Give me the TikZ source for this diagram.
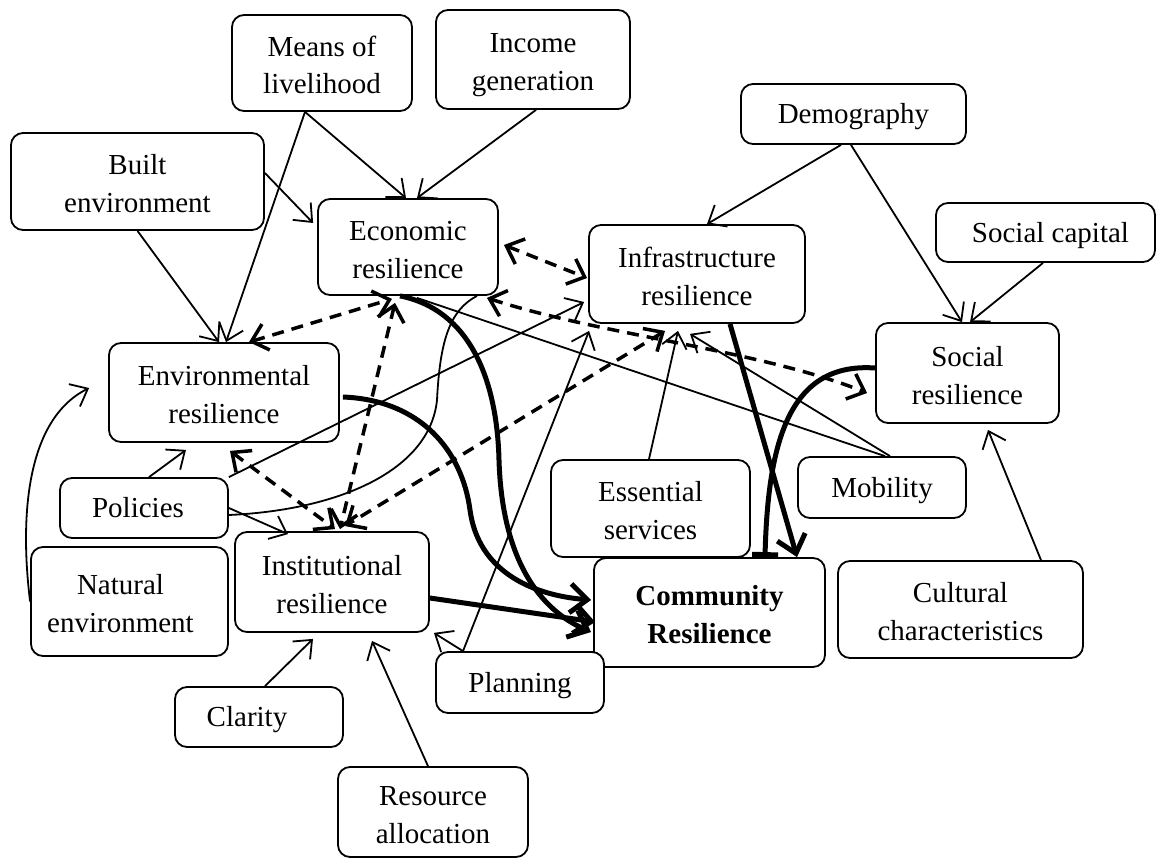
\documentclass[tikz,border=0pt]{standalone}
\usepackage{fontspec}
\setmainfont{Liberation Serif}
\usetikzlibrary{arrows.meta}
\newcommand{\oneln}[1]{\rule[-8pt]{0pt}{35pt}#1}
\newcommand{\twoln}[2]{\rule{0pt}{30pt}#1\\#2\rule[-6pt]{0pt}{6pt}}
\begin{document}
\begin{tikzpicture}[x=1pt,y=-1pt,
  box/.style={draw, line width=1.8pt, rounded corners=12pt, fill=white, align=center, inner sep=0pt, font=\fontsize{29}{38}\selectfont},
  thinarr/.style={line width=1.8pt, -{Straight Barb[length=15pt,width=25pt]}},
  plainln/.style={line width=1.8pt},
  dasharr/.style={line width=3.5pt, dash pattern=on 12pt off 8pt, {Straight Barb[length=15pt,width=27pt]}-{Straight Barb[length=15pt,width=27pt]}},
  thickarr/.style={line width=5pt, -{Straight Barb[length=17pt,width=29pt]}},
  thickbar/.style={line width=5pt, -{Bar[width=26pt]}}
]
\useasboundingbox (0,0) rectangle (1160,859);
% nodes
\node[box, minimum width=180pt, minimum height=96pt] (means) at (322,63) {\twoln{Means of}{livelihood}};
\node[box, minimum width=194pt, minimum height=99pt] (income) at (533,59.5) {\twoln{Income}{generation}};
\node[box, minimum width=253pt, minimum height=97pt] (built) at (137.5,181.5) {\twoln{Built}{environment}};
\node[box, minimum width=180pt, minimum height=96pt] (econ) at (408,247) {\twoln{Economic}{resilience}};
\node[box, minimum width=216pt, minimum height=98pt] (infra) at (697,274) {\twoln{Infrastructure}{resilience}};
\node[box, minimum width=225pt, minimum height=60pt] (demo) at (853.5,114) {\oneln{Demography}};
\node[box, minimum width=219pt, minimum height=59pt] (socap) at (1045.5,232.5) {\oneln{\hspace*{10pt}Social capital}};
\node[box, minimum width=183pt, minimum height=100pt] (social) at (967.5,373) {\twoln{Social}{resilience}};
\node[box, minimum width=230pt, minimum height=99pt] (env) at (224,392.5) {\twoln{Environmental}{resilience}};
\node[box, minimum width=168pt, minimum height=60pt] (pol) at (144,508) {\oneln{Policies\hspace*{12pt}}};
\node[box, minimum width=197pt, minimum height=109pt] (nat) at (129.5,601.5) {\twoln{Natural\hspace*{18pt}}{environment\hspace*{18pt}}};
\node[box, minimum width=194pt, minimum height=100pt] (inst) at (332,582) {\twoln{Institutional}{resilience}};
\node[box, minimum width=231pt, minimum height=109pt] (comm) at (709.5,612.5) {\twoln{\textbf{Community}}{\textbf{Resilience}}};
\node[box, minimum width=199pt, minimum height=97pt] (ess) at (650.5,508.5) {\twoln{Essential}{services}};
\node[box, minimum width=168pt, minimum height=61pt] (plan) at (520,682.5) {\oneln{Planning}};
\node[box, minimum width=168pt, minimum height=61pt] (mob) at (882,487.5) {\oneln{Mobility}};
\node[box, minimum width=245pt, minimum height=97pt] (cult) at (960.5,609.5) {\twoln{Cultural}{characteristics}};
\node[box, minimum width=168pt, minimum height=60pt] (clar) at (259,717) {\oneln{Clarity\hspace*{24pt}}};
\node[box, minimum width=190pt, minimum height=90pt] (res) at (433,812) {\twoln{Resource}{allocation}};

% thin arrows
\draw[thinarr] ([xshift=-17pt]means.south) -- ([xshift=2pt]env.north);
\draw[thinarr] ([xshift=-17pt]means.south) -- ([xshift=-2pt]econ.north);
\draw[thinarr] ([xshift=3pt]income.south) -- ([xshift=9pt]econ.north);
\draw[thinarr] ([yshift=8.5pt]built.east) -- ([xshift=-4pt,yshift=24pt]econ.west);
\draw[thinarr] (built.south) -- ([xshift=-5pt]env.north);
\draw[thinarr] ([xshift=-12.5pt]demo.south) -- ([xshift=10pt]infra.north);
\draw[thinarr] ([xshift=-2.5pt]demo.south) -- ([xshift=-5.5pt]social.north);
\draw[thinarr] ([xshift=-2.5pt]socap.south) -- ([xshift=2.5pt]social.north);
\draw[thinarr] ([xshift=80.5pt]cult.north) -- ([xshift=20.5pt,yshift=-6pt]social.south);
\draw[thinarr] ([xshift=8pt]mob.north) -- ([xshift=-7pt,yshift=-10pt]infra.south);
\draw[plainln] ([xshift=3pt]mob.north) -- ([xshift=9pt,yshift=-2pt]econ.south);
\draw[thinarr] ([xshift=-1.5pt]ess.north) -- ([xshift=-19pt,yshift=-7pt]infra.south);
\draw[thinarr] ([xshift=-57pt]plan.north) -- ([xshift=1pt,yshift=-7pt]infra.south west);
\draw[thinarr] ([xshift=-57pt]plan.north) -- ([xshift=4pt]inst.south east);
\draw[thinarr] ([xshift=5pt]pol.north) -- ([xshift=-38pt,yshift=-7pt]env.south);
\draw[thinarr] (pol.north east) -- ([xshift=-4pt,yshift=-28pt]infra.west);
\draw[thinarr] (pol.east) -- ([xshift=-44pt,yshift=-3pt]inst.north);
\draw[plainln] ([yshift=-7pt]pol.east) .. controls (340,510) and (430,470) .. (437,400)
   .. controls (440,340) and (450,310) .. ([xshift=69pt]econ.south);
\draw[thinarr] (nat.west) .. controls (20,520) and (25,420) .. ([xshift=-19pt,yshift=4.5pt]env.west);
\draw[thinarr] ([xshift=6pt]clar.north) -- ([xshift=-19pt,yshift=-6pt]inst.south);
\draw[thinarr] ([xshift=-5pt]res.north) -- ([xshift=40pt,yshift=-8pt]inst.south);

% dashed two-way arrows
\draw[dasharr] ([xshift=25pt]env.north) -- ([xshift=-16pt,yshift=-3pt]econ.south);
\draw[dasharr] ([xshift=-13pt,yshift=-7pt]econ.south) -- ([xshift=8pt,yshift=2pt]inst.north);
\draw[dasharr] ([xshift=6pt,yshift=-8pt]env.south) -- ([xshift=3pt,yshift=2pt]inst.north);
\draw[dasharr] ([xshift=5pt,yshift=2pt]econ.east) -- ([xshift=-1pt,yshift=-4pt]infra.west);
\draw[dasharr] ([xshift=79pt,yshift=-2pt]econ.south) .. controls (600,335) and (760,350) .. ([xshift=-8pt,yshift=-20pt]social.west);
\draw[dasharr] ([xshift=-32pt,yshift=-7pt]infra.south) -- ([xshift=13pt,yshift=5pt]inst.north);

% thick arrows
\draw[thickarr] ([xshift=3pt,yshift=-4.5pt]env.east) .. controls (420,400) and (462,450) .. (470,510)
   .. controls (478,570) and (530,595) .. ([xshift=-2pt,yshift=12.5pt]comm.west);
\draw[thickarr] ([xshift=-8pt]econ.south) .. controls (470,310) and (497,380) .. (499,460)
   .. controls (502,560) and (540,610) .. ([xshift=-2pt,yshift=-19.5pt]comm.west);
\draw[thickarr] ([yshift=-16pt]inst.east) -- ([xshift=2pt,yshift=-9.5pt]comm.west);
\draw[thickarr] ([xshift=33pt]infra.south) -- ([xshift=87.5pt]comm.north);
\draw[thickbar] ([yshift=5pt]social.west) .. controls (790,362) and (768,440) .. ([xshift=55.5pt]comm.north);
\end{tikzpicture}
\end{document}
